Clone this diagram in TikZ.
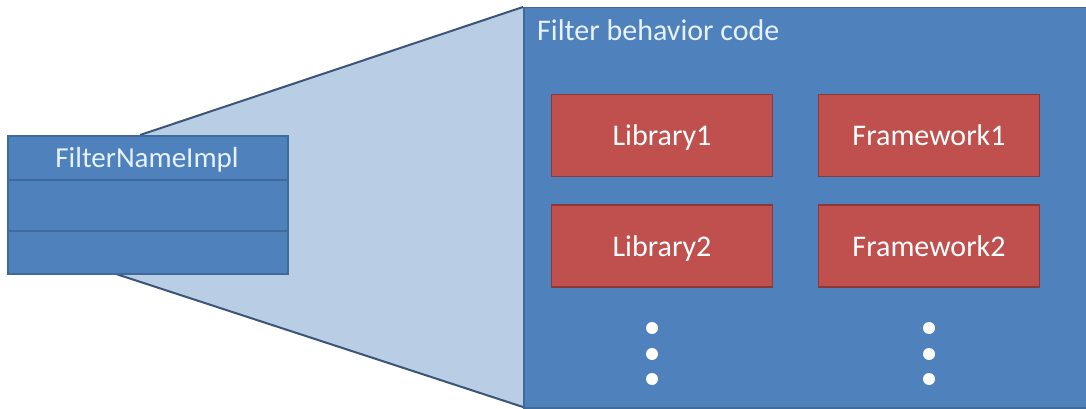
\documentclass[tikz,border=0pt]{standalone}
\usepackage{fontspec}
\setmainfont{Carlito}
\begin{document}
\begin{tikzpicture}[x=1pt,y=-1pt,
  bluefill/.style={fill=blueA,draw=blueB,line width=1.5pt},
  redbox/.style={rectangle,fill=redA,draw=redB,line width=1.5pt,minimum width=221pt,minimum height=82pt,inner sep=0pt},
  lbl/.style={text=white,font=\fontsize{30}{36}\selectfont},
  dotc/.style={circle,fill=white,draw=none,minimum size=12pt,inner sep=0pt},
  zoomline/.style={draw=lineC,line width=2pt}]
\definecolor{blueA}{HTML}{4F81BD}
\definecolor{blueB}{HTML}{3F6A9C}
\definecolor{redA}{HTML}{C0504D}
\definecolor{redB}{HTML}{8C3836}
\definecolor{lightB}{HTML}{B9CDE5}
\definecolor{lineC}{HTML}{3A5578}
\definecolor{titleC}{HTML}{E6F2FF}
\useasboundingbox (0,0) rectangle (1086,409);
\fill[white] (0,0) rectangle (1086,409);
% zoom wedge
\coordinate (zt) at (140,135);
\coordinate (zb) at (113,273);
\coordinate (bt) at (523,7);
\coordinate (bb) at (523,407);
\fill[lightB] (zt) -- (bt) -- (bb) -- (zb) -- cycle;
\draw[zoomline] (zt) -- (bt);
\draw[zoomline] (zb) -- (bb);
% big box
\node[bluefill,rectangle,anchor=north west,minimum width=570pt,minimum height=400pt,inner sep=0pt] (big) at (523,7) {};
\node[anchor=base west,text=titleC,font=\fontsize{30}{36}\selectfont,inner sep=0pt] (title) at (537,41) {Filter behavior code};
% red boxes
\node[redbox] (lib1) at (662,135.5) {};
\node[redbox] (fw1) at (929,135.5) {};
\node[redbox] (lib2) at (662,246) {};
\node[redbox] (fw2) at (929,246) {};
\node[lbl,anchor=base,inner sep=0pt] (tlib1) at (662,145) {Library1};
\node[lbl,anchor=base,inner sep=0pt] (tfw1) at (929,145) {Framework1};
\node[lbl,anchor=base,inner sep=0pt] (tlib2) at (662,256) {Library2};
\node[lbl,anchor=base,inner sep=0pt] (tfw2) at (929,256) {Framework2};
% dots
\node[dotc] (d1) at (652,328) {};
\node[dotc] (d2) at (652,354) {};
\node[dotc] (d3) at (652,379) {};
\node[dotc] (d4) at (929,328) {};
\node[dotc] (d5) at (929,354) {};
\node[dotc] (d6) at (929,379) {};
% left class box
\node[bluefill,rectangle,anchor=north west,minimum width=280pt,minimum height=44pt,inner sep=0pt] (c1) at (7,135) {};
\node[bluefill,rectangle,anchor=north west,minimum width=280pt,minimum height=51pt,inner sep=0pt] (c2) at (7,179) {};
\node[bluefill,rectangle,anchor=north west,minimum width=280pt,minimum height=43pt,inner sep=0pt] (c3) at (7,230) {};
\node[anchor=base,text=titleC,font=\fontsize{29}{34}\selectfont,inner sep=0pt] (cname) at (147,167) {FilterNameImpl};
\end{tikzpicture}
\end{document}
